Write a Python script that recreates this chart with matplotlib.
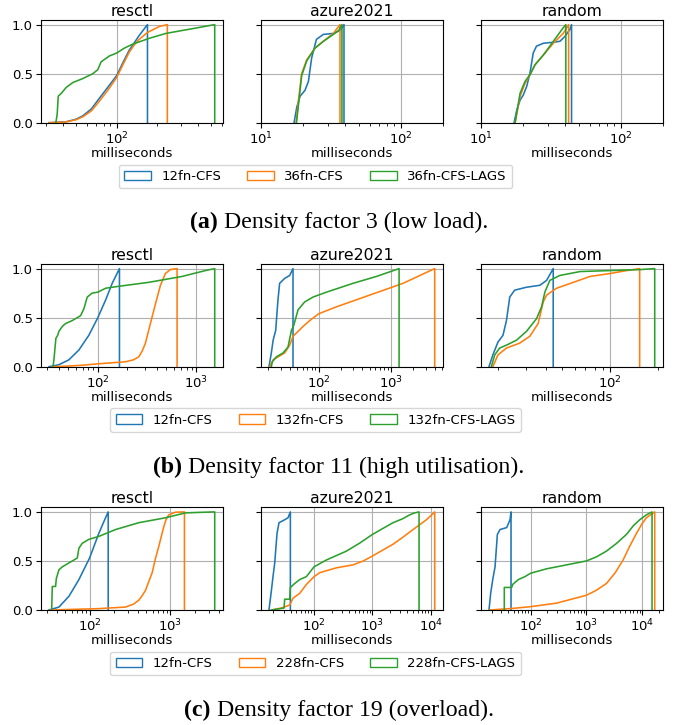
import matplotlib
matplotlib.use("Agg")
import matplotlib.pyplot as plt
from matplotlib.patches import Patch
from matplotlib.ticker import NullFormatter

# CDF points: (milliseconds, cumulative fraction)
# (a) density factor 3
a_resctl_12 = [(31.6, 0), (42.4, 0.01), (50, 0.035), (56.2, 0.07), (65, 0.14), (74.6, 0.25), (87, 0.37), (100, 0.48), (112, 0.62),
               (124, 0.74), (147, 0.89), (169, 1.0)]
a_resctl_36 = [(32, 0), (42.4, 0.008), (50, 0.03), (56.2, 0.06), (65, 0.12), (74.6, 0.22), (87, 0.34), (100, 0.46), (112, 0.60),
               (124, 0.72), (136, 0.80), (147, 0.85), (169, 0.92), (206, 0.98), (237, 1.0)]
a_resctl_36l = [(35.5, 0), (36.3, 0.08), (37, 0.27), (39, 0.30), (42.4, 0.36), (47.5, 0.41), (56.2, 0.45), (66.7, 0.50), (72.5, 0.54),
                (76.7, 0.62), (88.3, 0.68), (100, 0.71), (114, 0.76), (131, 0.80), (174, 0.86), (231, 0.91), (305, 0.94), (405, 0.97), (531, 1.0)]
a_azure_12 = [(17.3, 0), (18.1, 0.16), (19.1, 0.27), (20.7, 0.33), (21.9, 0.42), (23.1, 0.66), (25.0, 0.85), (28.0, 0.90), (33.0, 0.91), (36.8, 0.94), (39.3, 1.0)]
a_azure_36 = [(17.9, 0), (18.5, 0.2), (19.6, 0.5), (21.3, 0.64), (24.4, 0.76), (28.0, 0.83), (33.0, 0.91), (36.8, 1.0)]
a_azure_36l = [(18.0, 0), (18.6, 0.18), (19.6, 0.48), (21.3, 0.63), (24.4, 0.76), (28.0, 0.83), (33.0, 0.90), (36.0, 0.94), (38.0, 1.0)]
a_random_12 = [(17.3, 0), (18.1, 0.13), (19.1, 0.23), (20.1, 0.28), (21.3, 0.37), (22.5, 0.51), (23.7, 0.71), (25.0, 0.78), (28.0, 0.81),
               (33.0, 0.82), (36.8, 0.83), (39.9, 0.88), (43.3, 0.95), (44.5, 1.0)]
a_random_36 = [(17.6, 0), (19.1, 0.27), (20.7, 0.40), (22.5, 0.49), (24.4, 0.59), (28.0, 0.69), (33.0, 0.81), (38.8, 0.91), (42.4, 1.0)]
a_random_36l = [(17.6, 0), (19.1, 0.30), (20.7, 0.42), (22.5, 0.49), (24.4, 0.59), (28.0, 0.69), (33.0, 0.83), (38.0, 0.95), (40.5, 1.0)]

# (b) density factor 11
b_resctl_12 = [(31.8, 0), (40.1, 0.02), (50.7, 0.07), (64.1, 0.17), (80.9, 0.32), (100, 0.50), (120, 0.68), (140, 0.85), (166, 1.0)]
b_resctl_132 = [(34.3, 0), (46.9, 0.005), (69.3, 0.015), (102, 0.03), (191, 0.05), (230, 0.07), (261, 0.10), (283, 0.16), (305, 0.24),
                (343, 0.44), (386, 0.64), (434, 0.83), (487, 0.95), (548, 0.99), (641, 1.0)]
b_resctl_132l = [(34.9, 0), (35.7, 0.07), (37.4, 0.29), (39.0, 0.32), (40.1, 0.36), (43.4, 0.41), (46.9, 0.44), (54.8, 0.47), (66.7, 0.52),
                 (72.0, 0.59), (78.0, 0.71), (87.5, 0.75), (100, 0.76), (120, 0.80), (164, 0.82), (330, 0.86), (720, 0.92), (1245, 0.98), (1549, 1.0)]
b_azure_12 = [(20.7, 0), (22.3, 0.14), (23.6, 0.27), (25.6, 0.37), (27.5, 0.68), (29.0, 0.85), (34.0, 0.90), (39.9, 0.93), (44.3, 1.0)]
b_azure_132 = [(21.2, 0), (23.6, 0.07), (27.5, 0.10), (34.0, 0.14), (39.9, 0.22), (44.3, 0.31), (52.0, 0.36), (60.8, 0.41), (75.2, 0.47),
               (100, 0.54), (175, 0.61), (503, 0.73), (1449, 0.85), (3945, 1.0)]
b_azure_132l = [(22.3, 0), (23.0, 0.05), (26.1, 0.10), (32.3, 0.14), (37.8, 0.20), (42.1, 0.37), (45.3, 0.42), (52.0, 0.58), (64.1, 0.66),
                (83.6, 0.71), (128, 0.76), (297, 0.85), (622, 0.92), (1276, 1.0)]
b_random_12 = [(17.5, 0), (18.5, 0.12), (19.9, 0.25), (21.4, 0.32), (22.5, 0.47), (23.6, 0.71), (25.3, 0.78), (30.0, 0.81), (36.4, 0.83),
               (40.1, 0.88), (44.1, 1.0)]
b_random_132 = [(18.5, 0), (19.9, 0.12), (22.5, 0.19), (27.2, 0.24), (31.5, 0.31), (35.5, 0.44), (38.2, 0.66), (40.1, 0.73), (46.3, 0.80),
                (58.9, 0.86), (74.9, 0.92), (100, 0.95), (127, 0.98), (153, 1.0)]
b_random_132l = [(18.1, 0), (19.0, 0.12), (20.4, 0.19), (22.5, 0.22), (26.0, 0.27), (30.0, 0.36), (34.7, 0.49), (37.3, 0.61), (39.1, 0.76),
                 (42.0, 0.88), (48.5, 0.93), (64.9, 0.97), (100, 0.98), (154, 0.99), (190, 1.0)]

# (c) density factor 19
c_resctl_12 = [(31.5, 0), (41.8, 0.03), (55.6, 0.14), (73.8, 0.31), (100, 0.53), (130, 0.78), (150, 0.90), (170, 1.0)]
c_resctl_228 = [(33.0, 0), (130, 0.014), (278, 0.03), (350, 0.06), (406, 0.10), (450, 0.15), (491, 0.20), (540, 0.29), (594, 0.38),
                (650, 0.52), (718, 0.65), (827, 0.85), (880, 0.92), (954, 0.97), (1152, 0.997), (1489, 1.0)]
c_resctl_228l = [(34.0, 0), (34.6, 0.24), (38.0, 0.24), (38.8, 0.32), (41.8, 0.41), (46.0, 0.44), (55.6, 0.48), (70.5, 0.53), (73.8, 0.63),
                 (81.2, 0.68), (98, 0.72), (130, 0.75), (209, 0.82), (406, 0.89), (867, 0.94), (1531, 0.99), (2237, 0.995), (3524, 1.0)]
c_azure_12 = [(16.9, 0), (18.6, 0.2), (19.8, 0.34), (21.2, 0.48), (23.2, 0.78), (25.1, 0.89), (31.4, 0.92), (35.8, 0.94), (39.3, 1.0)]
c_azure_228 = [(18.6, 0), (27.5, 0.02), (38.3, 0.05), (43.6, 0.12), (56.8, 0.17), (73.9, 0.26), (100, 0.34), (125, 0.38), (242, 0.43),
               (466, 0.46), (700, 0.50), (1000, 0.55), (1500, 0.61), (2259, 0.67), (3300, 0.74), (4977, 0.82), (6500, 0.87),
               (8433, 0.92), (10000, 0.96), (11710, 1.0)]
c_azure_228l = [(18.6, 0), (30.6, 0.02), (31.4, 0.11), (38.3, 0.11), (39.3, 0.23), (46.6, 0.27), (56.8, 0.31), (73.9, 0.34), (100, 0.44),
                (163, 0.51), (358, 0.60), (600, 0.68), (1000, 0.77), (1500, 0.83), (2259, 0.89), (3300, 0.93), (4366, 0.97),
                (5300, 0.99), (6310, 1.0)]
c_random_12 = [(17.9, 0), (19.2, 0.17), (20.9, 0.31), (23.0, 0.44), (25.3, 0.77), (28.2, 0.82), (37.2, 0.84), (42.7, 0.92), (44.5, 1.0)]
c_random_228 = [(18.7, 0), (49, 0.017), (100, 0.034), (292, 0.07), (1000, 0.15), (1500, 0.20), (2295, 0.27), (3300, 0.38), (4570, 0.51),
                (6000, 0.65), (7925, 0.78), (10000, 0.88), (11970, 0.94), (16870, 1.0)]
c_random_228l = [(33.7, 0), (33.7, 0.23), (45.7, 0.23), (47.6, 0.26), (60.1, 0.31), (79.2, 0.34), (100, 0.375), (194, 0.42), (441, 0.46),
                 (1000, 0.50), (1500, 0.54), (2295, 0.60), (3500, 0.68), (5236, 0.77), (7000, 0.86), (9078, 0.92), (12000, 0.97), (15100, 1.0)]

titles = ["resctl", "azure2021", "random"]
labels_a = ["12fn-CFS", "36fn-CFS", "36fn-CFS-LAGS"]
labels_b = ["12fn-CFS", "132fn-CFS", "132fn-CFS-LAGS"]
labels_c = ["12fn-CFS", "228fn-CFS", "228fn-CFS-LAGS"]
captions = [("(a)", "Density factor 3 (low load)."),
            ("(b)", "Density factor 11 (high utilisation)."),
            ("(c)", "Density factor 19 (overload).")]

rows = [
    [[a_resctl_12, a_resctl_36, a_resctl_36l], [a_azure_12, a_azure_36, a_azure_36l], [a_random_12, a_random_36, a_random_36l]],
    [[b_resctl_12, b_resctl_132, b_resctl_132l], [b_azure_12, b_azure_132, b_azure_132l], [b_random_12, b_random_132, b_random_132l]],
    [[c_resctl_12, c_resctl_228, c_resctl_228l], [c_azure_12, c_azure_228, c_azure_228l], [c_random_12, c_random_228, c_random_228l]],
]
row_labels = [labels_a, labels_b, labels_c]
colors = ["tab:blue", "tab:orange", "tab:green"]

W, H = 678, 725
fig = plt.figure(figsize=(W / 100, H / 100), dpi=100)

ax_left = [40.7, 260.7, 480.7]
ax_w = 182.3
ax_h = 103.0
row_bottom = [122.7, 366.7, 610.0]
legend_y = [176.5, 420.0, 663.5]
caption_y = [222.0, 467.0, 710.0]

fs = 9.5
for r in range(3):
    for c in range(3):
        ax = fig.add_axes([ax_left[c] / W, 1 - row_bottom[r] / H, ax_w / W, ax_h / H])
        for series, col in zip(rows[r][c], colors):
            xs = [p[0] for p in series]
            ys = [p[1] for p in series]
            # close the step histogram down to zero at its last edge
            ax.plot(xs + [xs[-1]], ys + [0], color=col, lw=1.15)
        ax.set_xscale("log")
        ax.set_ylim(0, 1.05)
        if r == 0 and c > 0:
            ax.set_xlim(10, 200)
        ax.set_yticks([0, 0.5, 1.0])
        ax.set_yticklabels(["0.0", "0.5", "1.0"])
        ax.xaxis.set_minor_formatter(NullFormatter())
        ax.tick_params(labelsize=fs, pad=2)
        if c > 0:
            ax.tick_params(labelleft=False)
        ax.grid(True, which="major")
        ax.set_title(titles[c], fontsize=11.3, pad=3)
        ax.set_xlabel("milliseconds", fontsize=fs, labelpad=0)

    handles = [Patch(facecolor="none", edgecolor=col) for col in colors]
    fig.legend(handles, row_labels[r], loc="center", ncol=3, fontsize=fs,
               bbox_to_anchor=(315.5 / W, 1 - legend_y[r] / H))

# captions: bold tag followed by normal text, centred together
renderer = fig.canvas.get_renderer()
for (tag, text), y in zip(captions, caption_y):
    t1 = fig.text(0, 1 - y / H, tag + " ", fontsize=17.2, family="Liberation Serif",
                  weight="bold", va="center", ha="left")
    t2 = fig.text(0, 1 - y / H, text, fontsize=17.2, family="Liberation Serif",
                  va="center", ha="left")
    w1 = t1.get_window_extent(renderer).width
    w2 = t2.get_window_extent(renderer).width
    x0 = (W - w1 - w2) / 2
    t1.set_x(x0 / W)
    t2.set_x((x0 + w1) / W)

fig.savefig("out.png", dpi=100)
